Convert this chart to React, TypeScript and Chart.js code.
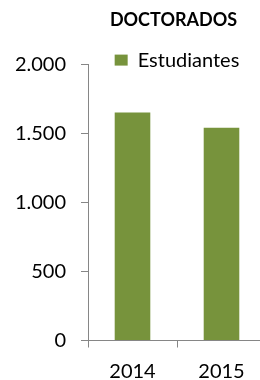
import React, { useEffect, useRef } from "react";
import { Chart, registerables } from "chart.js";

Chart.register(...registerables);

const categories = ["2014", "2015"];
const seriesName = "Estudiantes";
const values = [1650, 1540];
const yTickLabels = ["0", "500", "1.000", "1.500", "2.000"];
const chartTitle = "DOCTORADOS";

const FONT = "Lato, 'Liberation Sans', sans-serif";

// Legend box overlaps the plot's top margin: draw it without its clip box.
// Title is centred a little left of the plot area centre in the reference.
const layoutTweaks = {
  id: "layoutTweaks",
  afterLayout(chart: any) {
    const lg = chart.legend;
    if (lg && !lg.__unclipped) {
      lg.__unclipped = true;
      lg.draw = function () {
        if (this.options.display) this._draw();
      };
    }
    const tb = chart.titleBlock;
    if (tb) {
      tb.left = tb.left - 7;
    }
  },
};

export default function App() {
  const ref = useRef<HTMLCanvasElement | null>(null);

  useEffect(() => {
    const canvas = ref.current;
    if (!canvas) return;
    const chart = new Chart(canvas, {
      type: "bar",
      data: {
        labels: categories,
        datasets: [
          {
            label: seriesName,
            data: values,
            backgroundColor: "#77933C",
            borderWidth: 0,
            categoryPercentage: 1,
            barPercentage: 0.4,
          },
        ],
      },
      options: {
        responsive: false,
        animation: false,
        devicePixelRatio: 1,
        layout: { padding: { left: 0, right: 0, top: 0, bottom: 0 } },
        plugins: {
          title: {
            display: true,
            text: chartTitle,
            fullSize: false,
            color: "#000",
            font: { family: FONT, size: 18, weight: "bold", lineHeight: 1.2 },
            padding: { top: 9.5, bottom: 0 },
          },
          legend: {
            display: true,
            position: "top",
            fullSize: false,
            maxHeight: 33,
            labels: {
              boxWidth: 13,
              boxHeight: 11,
              padding: 19,
              color: "#000",
              font: { family: FONT, size: 20 },
            },
          },
          tooltip: { enabled: false },
        },
        scales: {
          x: {
            offset: true,
            border: { display: true, color: "#868686", width: 1 },
            grid: {
              offset: true,
              drawOnChartArea: false,
              drawTicks: true,
              tickLength: 7,
              color: "#868686",
            },
            ticks: {
              color: "#000",
              font: { family: FONT, size: 20 },
              padding: 12,
              maxRotation: 0,
            },
            afterFit: (s: any) => {
              s.height = 39.5;
            },
          },
          y: {
            min: 0,
            max: 2000,
            border: { display: true, color: "#868686", width: 1 },
            grid: {
              drawOnChartArea: false,
              drawTicks: true,
              tickLength: 7,
              color: "#868686",
            },
            ticks: {
              stepSize: 500,
              color: "#000",
              font: { family: FONT, size: 20 },
              padding: 15,
              callback: (_v: any, i: number) => yTickLabels[i],
            },
            afterFit: (s: any) => {
              s.width = 88;
            },
          },
        },
      },
      plugins: [layoutTweaks],
    });
    return () => chart.destroy();
  }, []);

  return (
    <div
      style={{
        position: "fixed",
        left: 0,
        top: 0,
        width: 260,
        height: 380,
        overflow: "hidden",
        background: "#fff",
      }}
    >
      <canvas ref={ref} width={266} height={380} style={{ display: "block" }} />
    </div>
  );
}
